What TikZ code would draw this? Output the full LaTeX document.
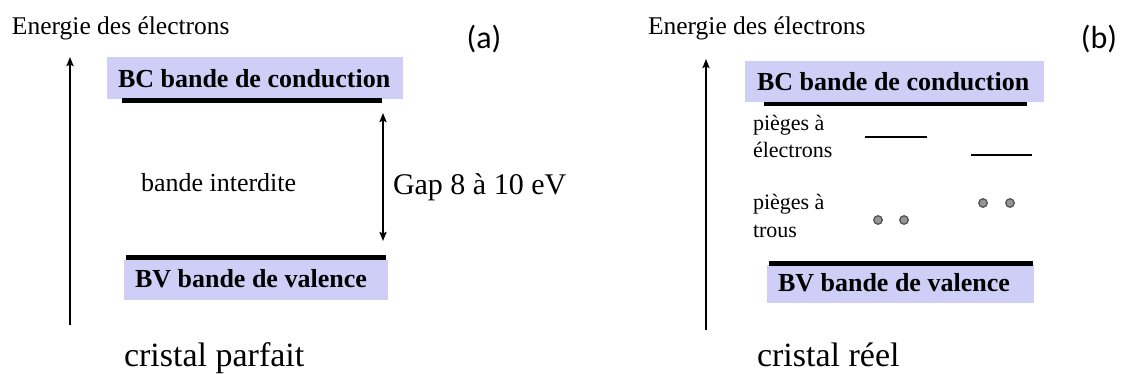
\documentclass[tikz,border=0pt]{standalone}
\usepackage{fontspec}
\usetikzlibrary{arrows.meta}
\newfontfamily\tnr{Liberation Serif}
\newfontfamily\calfont{Carlito}
\definecolor{bandfill}{RGB}{206,206,246}
\definecolor{trapfill}{RGB}{150,150,150}
\definecolor{trapdraw}{RGB}{85,85,85}
\begin{document}
\begin{tikzpicture}[x=1pt,y=-1pt,
  lbl/.style={inner sep=0pt,outer sep=0pt,anchor=base west},
  axislbl/.style={lbl,font=\tnr\fontsize{25.5}{28}\selectfont},
  bandtxt/.style={lbl,font=\tnr\bfseries\fontsize{26}{28}\selectfont},
  midtxt/.style={lbl,font=\tnr\fontsize{26}{28}\selectfont},
  gaptxt/.style={lbl,font=\tnr\fontsize{30}{32}\selectfont},
  traptxt/.style={lbl,font=\tnr\fontsize{22}{24}\selectfont},
  bigtxt/.style={lbl,font=\tnr\fontsize{34}{38}\selectfont},
  panellbl/.style={inner sep=0pt,anchor=center,font=\calfont\fontsize{32}{36}\selectfont},
  bandbox/.style={fill=bandfill,draw=none},
  bandline/.style={line width=4.5pt},
  trapline/.style={line width=2pt},
  axis/.style={line width=2pt,-{Stealth[length=9pt,width=7pt,inset=1.5pt]}},
  gaparrow/.style={line width=2pt,{Stealth[length=9pt,width=7pt,inset=1.5pt]}-{Stealth[length=9pt,width=7pt,inset=1.5pt]}},
  trap/.style={circle,fill=trapfill,draw=trapdraw,line width=1.3pt,minimum size=8.5pt,inner sep=0pt}
]
\useasboundingbox[fill=white] (0,0) rectangle (1121,374);

% ---------- panel (a) ----------
\node[axislbl] (ea) at (12,35) {Energie des électrons};
\node[panellbl] (pa) at (484,39) {(a)};
\coordinate (axa0) at (70,325);
\coordinate (axa1) at (70,57);
\draw[axis] (axa0) -- (axa1);

\fill[bandbox] (107,57) rectangle (403,99);
\node[bandtxt] (bca) at (118,88) {BC bande de conduction};
\coordinate (bcla0) at (122,100.5);
\coordinate (bcla1) at (382,100.5);
\draw[bandline] (bcla0) -- (bcla1);

\node[midtxt] (bia) at (141,192) {bande interdite};
\coordinate (gap0) at (383,113);
\coordinate (gap1) at (383,241);
\draw[gaparrow] (gap0) -- (gap1);
\node[gaptxt] (gapt) at (393,195) {Gap 8 à 10 eV};

\fill[bandbox] (124,260) rectangle (388,300);
\coordinate (bvla0) at (126,257.5);
\coordinate (bvla1) at (386,257.5);
\draw[bandline,line width=5pt] (bvla0) -- (bvla1);
\node[bandtxt] (bva) at (135,287) {BV bande de valence};

\node[bigtxt] (cpa) at (124,366) {cristal parfait};

% ---------- panel (b) ----------
\node[axislbl] (eb) at (648,35) {Energie des électrons};
\node[panellbl] (pb) at (1099,39) {(b)};
\coordinate (axb0) at (706,330);
\coordinate (axb1) at (706,59);
\draw[axis] (axb0) -- (axb1);

\fill[bandbox] (745,61) rectangle (1044,102);
\node[bandtxt] (bcb) at (757,91) {BC bande de conduction};
\coordinate (bclb0) at (764,104);
\coordinate (bclb1) at (1027,104);
\draw[bandline] (bclb0) -- (bclb1);

\node[traptxt] (pe1) at (753,131) {pièges à};
\node[traptxt] (pe2) at (753,158) {électrons};
\coordinate (tl1a) at (865,137);
\coordinate (tl1b) at (927,137);
\draw[trapline] (tl1a) -- (tl1b);
\coordinate (tl2a) at (971,155);
\coordinate (tl2b) at (1032,155);
\draw[trapline] (tl2a) -- (tl2b);

\node[traptxt] (pt1) at (753,210) {pièges à};
\node[traptxt] (pt2) at (753,237) {trous};
\node[trap] (h1) at (878,220) {};
\node[trap] (h2) at (904,220) {};
\node[trap] (h3) at (983,203) {};
\node[trap] (h4) at (1010,203) {};

\fill[bandbox] (767,265) rectangle (1034,303);
\coordinate (bvlb0) at (769,263);
\coordinate (bvlb1) at (1033,263);
\draw[bandline,line width=5pt] (bvlb0) -- (bvlb1);
\node[bandtxt] (bvb) at (778,291) {BV bande de valence};

\node[bigtxt] (crb) at (757,366) {cristal réel};
\end{tikzpicture}
\end{document}
